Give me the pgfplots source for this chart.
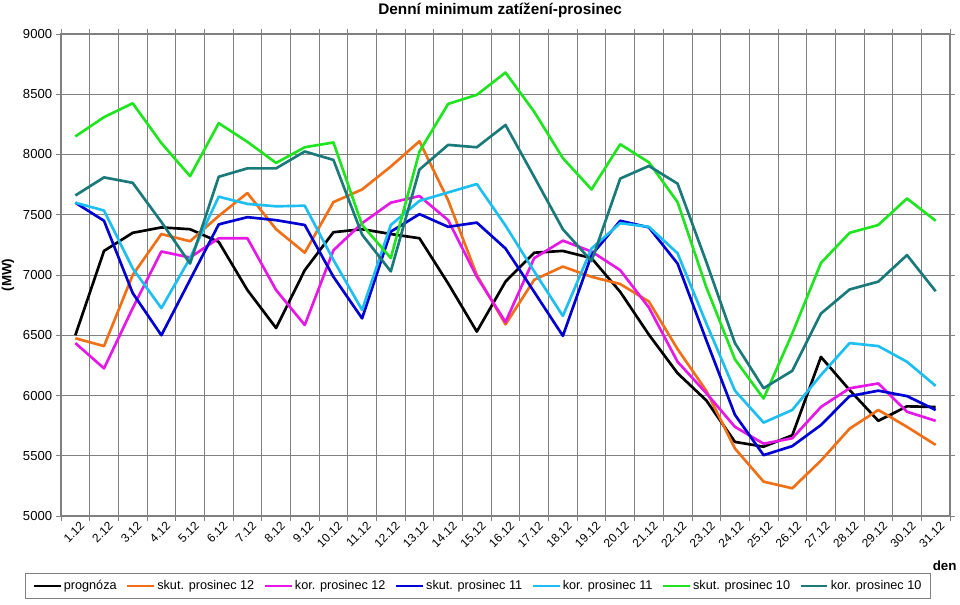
\documentclass[border=0pt]{standalone}
\usepackage{pgfplots}
\pgfplotsset{compat=1.18}
\usepackage{pgfplotstable}
\usepackage{fontspec}
\setmainfont{Liberation Sans}
\definecolor{cS12}{RGB}{240,112,24}
\definecolor{cK12}{RGB}{230,24,230}
\definecolor{cS11}{RGB}{0,0,210}
\definecolor{cK11}{RGB}{30,190,240}
\definecolor{cS10}{RGB}{32,228,32}
\definecolor{cK10}{RGB}{26,122,122}
\definecolor{gridc}{RGB}{128,128,128}
\pgfplotstableread{
d prog s12 k12 s11 k11 s10 k10
1 6500 6475 6435 7600 7600 8150 7660
2 7200 6410 6225 7450 7535 8310 7810
3 7350 7000 6725 6850 7055 8425 7765
4 7395 7340 7195 6500 6725 8095 7440
5 7380 7280 7145 6960 7140 7820 7095
6 7275 7490 7305 7420 7650 8260 7815
7 6875 7680 7305 7480 7590 8105 7885
8 6560 7380 6875 7455 7570 7930 7885
9 7040 7185 6585 7415 7575 8060 8025
10 7355 7605 7205 6985 7125 8100 7955
11 7380 7710 7430 6640 6710 7415 7335
12 7340 7900 7600 7360 7415 7140 7030
13 7305 8110 7655 7505 7615 8025 7875
14 6930 7620 7455 7400 7685 8420 8080
15 6530 7000 6985 7435 7755 8495 8060
16 6945 6590 6610 7220 7410 8680 8245
17 7185 6960 7140 6860 7030 8355 7815
18 7200 7070 7285 6495 6660 7970 7380
19 7140 6985 7195 7165 7220 7710 7115
20 6860 6925 7040 7450 7430 8085 7800
21 6505 6780 6730 7395 7400 7935 7905
22 6185 6385 6280 7095 7180 7605 7758
23 5960 6040 6020 6460 6600 6900 7110
24 5615 5560 5740 5840 6040 6300 6435
25 5575 5285 5600 5505 5775 5975 6060
26 5670 5230 5645 5580 5880 6515 6205
27 6320 5460 5905 5755 6170 7100 6680
28 6045 5725 6060 5995 6435 7350 6880
29 5790 5880 6100 6040 6410 7415 6945
30 5910 5740 5865 5995 6280 7635 7165
31 5905 5590 5790 5880 6080 7450 6865
}\datatable
\begin{document}
\begin{tikzpicture}
\useasboundingbox (-45.75pt,-66pt) rectangle (674.25pt,387pt);
\begin{axis}[
  at={(0pt,0pt)}, anchor=origin,
  scale only axis,
  width=666.75pt, height=361.5pt,
  xmin=0.5, xmax=31.5,
  ymin=5000, ymax=9000,
  ytick={5000,5500,...,9000},
  xtick={1,...,31},
  xticklabels={1.12,2.12,3.12,4.12,5.12,6.12,7.12,8.12,9.12,10.12,11.12,12.12,13.12,14.12,15.12,16.12,17.12,18.12,19.12,20.12,21.12,22.12,23.12,24.12,25.12,26.12,27.12,28.12,29.12,30.12,31.12},
  minor xtick={0.5,1.5,...,31.5},
  xminorgrids=true, ymajorgrids=true,
  grid style={gridc, line width=0.6pt},
  minor grid style={gridc, line width=0.6pt},
  axis line style={gridc, line width=0.8pt},
  tick align=outside,
  major tick length=3.5pt,
  minor tick length=3.5pt,
  x tick style={draw=none},
  minor x tick style={draw=gridc, line width=0.6pt},
  y tick style={draw=gridc, line width=0.6pt},
  xticklabel style={font=\fontsize{9}{10}\selectfont, rotate=45, anchor=north east, inner sep=1pt, xshift=3pt, yshift=-1pt},
  yticklabel style={font=\fontsize{9.8}{11}\selectfont, inner sep=1pt, xshift=-2pt},
  /pgf/number format/assume math mode=true,
  /pgf/number format/1000 sep={},
  ylabel={\bfseries (MW)},
  ylabel style={font=\fontsize{10}{12}\selectfont, at={(rel axis cs:-0.0596,0.5)}, anchor=center, rotate=0},
  xlabel={\bfseries den},
  xlabel style={font=\fontsize{10}{12}\selectfont, at={(rel axis cs:0.994,-0.104)}, anchor=center},
  legend columns=7,
  legend style={at={(rel axis cs:0.469,-0.145)}, anchor=center,
    draw=gridc, line width=0.6pt, font=\fontsize{9.5}{11}\selectfont,
    inner xsep=5pt, inner ysep=3pt,
    nodes={inner xsep=1.5pt},
    /tikz/every even column/.append style={column sep=5.5pt}},
  legend image code/.code={\draw[#1, line width=2pt] (0pt,0pt) -- (20pt,0pt);},
  every axis plot/.append style={line width=2pt, line join=round, mark=none},
  clip=false,
]
\addplot[black] table[x=d,y=prog]{\datatable};
\addlegendentry{prognóza}
\addplot[cS12] table[x=d,y=s12]{\datatable};
\addlegendentry{skut. prosinec 12}
\addplot[cK12] table[x=d,y=k12]{\datatable};
\addlegendentry{kor. prosinec 12}
\addplot[cS11] table[x=d,y=s11]{\datatable};
\addlegendentry{skut. prosinec 11}
\addplot[cK11] table[x=d,y=k11]{\datatable};
\addlegendentry{kor. prosinec 11}
\addplot[cS10] table[x=d,y=s10]{\datatable};
\addlegendentry{skut. prosinec 10}
\addplot[cK10] table[x=d,y=k10]{\datatable};
\addlegendentry{kor. prosinec 10}
\node[font=\fontsize{11.5}{13}\selectfont\bfseries, anchor=center] at (rel axis cs:0.494,1.05) {Denní minimum zatížení-prosinec};
\end{axis}
\end{tikzpicture}
\end{document}
